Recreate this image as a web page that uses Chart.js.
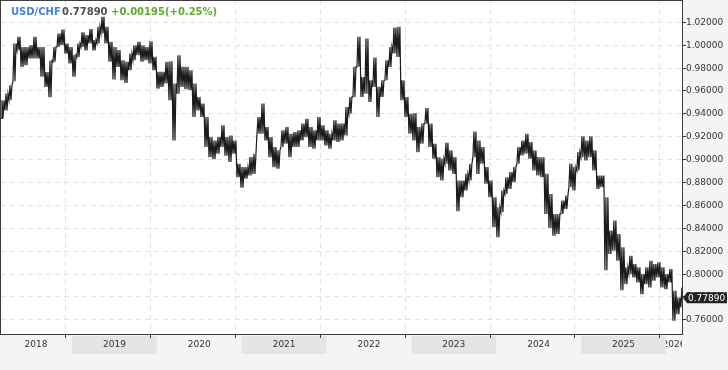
<!DOCTYPE html>
<html>
<head>
<title>USD/CHF</title>
<script src="https://cdn.jsdelivr.net/npm/chart.js"></script>
<style>
  html, body { margin: 0; padding: 0; background: #f3f4f6; }
  #wrap { width: 728px; height: 370px; }
</style>
</head>
<body>
<div id="wrap"><canvas id="fx" width="728" height="370"></canvas></div>
<script>
const years = ['2018', '2019', '2020', '2021', '2022', '2023', '2024', '2025', '2026'];
const yTicks = [0.76, 0.78, 0.80, 0.82, 0.84, 0.86, 0.88, 0.90, 0.92, 0.94, 0.96, 0.98, 1.00, 1.02];
const firstSample = 2018.163; // decimal year of the first sample
const sampleStep = 0.04714;   // ~2.5 weeks between samples

// high / low of each sample window
const highs = [
  0.9514, 0.9572, 0.9645, 1.0010, 1.0068, 0.9980, 0.9980, 0.9995, 1.0068, 0.9980,
  0.9980, 0.9760, 0.9860, 0.9980, 1.0098, 1.0133, 1.0010, 0.9980, 0.9910, 1.0010,
  1.0107, 1.0083, 1.0136, 1.0040, 1.0156, 1.0244, 1.0156, 1.0025, 0.9980, 0.9952,
  0.9864, 0.9850, 0.9923, 0.9995, 1.0025, 0.9995, 0.9980, 1.0030, 0.9893, 0.9762,
  0.9762, 0.9850, 0.9855, 0.9660, 0.9908, 0.9806, 0.9806, 0.9777, 0.9660, 0.9543,
  0.9485, 0.9368, 0.9192, 0.9163, 0.9192, 0.9295, 0.9192, 0.9207, 0.9163, 0.8959,
  0.8930, 0.8930, 0.9017, 0.9047, 0.9368, 0.9485, 0.9280, 0.9192, 0.9105, 0.9076,
  0.9251, 0.9280, 0.9222, 0.9236, 0.9251, 0.9310, 0.9353, 0.9280, 0.9251, 0.9368,
  0.9295, 0.9251, 0.9222, 0.9339, 0.9310, 0.9310, 0.9455, 0.9543, 0.9806, 1.0068,
  0.9718, 1.0054, 0.9689, 0.9888, 0.9631, 0.9689, 0.9864, 0.9980, 1.0150, 1.0156,
  0.9689, 0.9543, 0.9397, 0.9403, 0.9280, 0.9310, 0.9447, 0.9310, 0.9134, 0.9017,
  0.9003, 0.9143, 0.9076, 0.9017, 0.8813, 0.8813, 0.8871, 0.8959, 0.9242, 0.9163,
  0.9105, 0.8930, 0.8813, 0.8667, 0.8579, 0.8725, 0.8842, 0.8886, 0.8930, 0.9105,
  0.9163, 0.9222, 0.9149, 0.9076, 0.9017, 0.9017, 0.8871, 0.8696, 0.8521, 0.8521,
  0.8638, 0.8681, 0.8959, 0.8930, 0.9061, 0.9200, 0.9163, 0.9200, 0.9076, 0.8857,
  0.8857, 0.8667, 0.8375, 0.8463, 0.8346, 0.8229, 0.8054, 0.8156, 0.8083, 0.8054,
  0.7995, 0.8054, 0.8112, 0.8083, 0.8098, 0.8054, 0.7995, 0.8040, 0.7850, 0.7791,
  0.7879
];
const lows = [
  0.9356, 0.9426, 0.9514, 0.9680, 0.9952, 0.9806, 0.9820, 0.9880, 0.9880, 0.9880,
  0.9720, 0.9630, 0.9540, 0.9850, 0.9980, 0.9995, 0.9920, 0.9835, 0.9720, 0.9893,
  0.9980, 0.9950, 1.0010, 0.9950, 1.0010, 1.0098, 1.0010, 0.9850, 0.9695, 0.9806,
  0.9689, 0.9666, 0.9777, 0.9864, 0.9908, 0.9850, 0.9864, 0.9835, 0.9777, 0.9616,
  0.9630, 0.9660, 0.9514, 0.9163, 0.9572, 0.9630, 0.9610, 0.9601, 0.9368, 0.9426,
  0.9368, 0.9105, 0.9017, 0.9000, 0.9047, 0.9105, 0.9030, 0.8974, 0.9047, 0.8842,
  0.8749, 0.8828, 0.8857, 0.8871, 0.9222, 0.9222, 0.9163, 0.9017, 0.8930, 0.8915,
  0.9105, 0.9134, 0.9017, 0.9105, 0.9105, 0.9163, 0.9192, 0.9105, 0.9090, 0.9163,
  0.9163, 0.9120, 0.9090, 0.9163, 0.9149, 0.9163, 0.9207, 0.9397, 0.9543, 0.9806,
  0.9543, 0.9572, 0.9500, 0.9631, 0.9368, 0.9543, 0.9689, 0.9806, 0.9923, 0.9893,
  0.9514, 0.9368, 0.9222, 0.9163, 0.9061, 0.9134, 0.9310, 0.9105, 0.9003, 0.8842,
  0.8813, 0.8959, 0.8900, 0.8871, 0.8544, 0.8667, 0.8725, 0.8813, 0.9017, 0.8871,
  0.8959, 0.8784, 0.8667, 0.8404, 0.8317, 0.8536, 0.8696, 0.8740, 0.8798, 0.8959,
  0.9032, 0.9047, 0.9003, 0.8900, 0.8857, 0.8842, 0.8521, 0.8398, 0.8331, 0.8346,
  0.8521, 0.8565, 0.8755, 0.8725, 0.8900, 0.9017, 0.8988, 0.9017, 0.8900, 0.8740,
  0.8755, 0.8030, 0.8171, 0.8200, 0.8112, 0.7855, 0.7908, 0.7995, 0.7966, 0.7922,
  0.7820, 0.7908, 0.7879, 0.7937, 0.7966, 0.7879, 0.7864, 0.7922, 0.7587, 0.7645,
  0.7704
];

const symbol = 'USD/CHF';
const lastPrice = 0.77890;
const changeText = '+0.00195(+0.25%)';

// zigzag low/high twice inside each sample window so it reads as dense daily bars
const points = [];
lows.forEach((lo, i) => {
  const t = firstSample + i * sampleStep;
  points.push({ x: t, y: lo });
  points.push({ x: t + sampleStep * 0.25, y: highs[i] });
  points.push({ x: t + sampleStep * 0.5, y: lo });
  points.push({ x: t + sampleStep * 0.75, y: highs[i] });
});

const FONT = '"DejaVu Sans", Verdana, sans-serif';
const tickShift = 0.078; // year ticks sit a little before Jan 1

const decor = {
  id: 'decor',
  beforeDraw(chart) {
    const { ctx, chartArea: a, scales: { x, y } } = chart;
    ctx.save();
    ctx.fillStyle = '#f3f4f6';
    ctx.fillRect(0, 0, chart.width, chart.height);
    ctx.fillStyle = '#ffffff';
    ctx.fillRect(a.left, a.top, a.right - a.left, a.bottom - a.top);

    // year bands + labels
    ctx.font = '9px ' + FONT;
    ctx.textAlign = 'center';
    ctx.textBaseline = 'middle';
    years.forEach((yr, i) => {
      const x0 = Math.max(a.left - 1, x.getPixelForValue(+yr));
      const x1 = Math.min(a.right, x.getPixelForValue(+yr + 1));
      if (x1 <= x0) return;
      if (i % 2 === 1) {
        ctx.fillStyle = '#e4e5e7';
        ctx.fillRect(x0, a.bottom + 2, x1 - x0, 18);
      }
      ctx.save();
      ctx.beginPath();
      ctx.rect(x0, a.bottom + 1, x1 - x0, 22);
      ctx.clip();
      ctx.fillStyle = '#333';
      ctx.fillText(yr, (x0 + x1) / 2, a.bottom + 11);
      ctx.restore();
    });

    // dashed grid
    ctx.strokeStyle = '#e2e2e2';
    ctx.lineWidth = 1;
    ctx.setLineDash([5, 4]);
    yTicks.forEach(v => {
      const py = Math.round(y.getPixelForValue(v)) + 0.5;
      ctx.beginPath();
      ctx.moveTo(a.left, py);
      ctx.lineTo(a.right, py);
      ctx.stroke();
    });
    years.slice(1).forEach(yr => {
      const px = Math.round(x.getPixelForValue(+yr - tickShift)) + 0.5;
      ctx.beginPath();
      ctx.moveTo(px, a.top);
      ctx.lineTo(px, a.bottom);
      ctx.stroke();
    });
    ctx.restore();
  },
  afterDraw(chart) {
    const { ctx, chartArea: a, scales: { x, y } } = chart;
    ctx.save();
    ctx.strokeStyle = '#3c3c3c';
    ctx.lineWidth = 1;
    ctx.setLineDash([]);
    ctx.strokeRect(a.left - 0.5, a.top + 0.5, a.right - a.left + 1, a.bottom - a.top);

    // x ticks
    years.slice(1).forEach(yr => {
      const px = Math.round(x.getPixelForValue(+yr - tickShift)) + 0.5;
      ctx.beginPath();
      ctx.moveTo(px, a.bottom);
      ctx.lineTo(px, a.bottom + 4);
      ctx.stroke();
    });

    // y ticks + labels
    ctx.font = '9px ' + FONT;
    ctx.textAlign = 'left';
    ctx.textBaseline = 'middle';
    ctx.fillStyle = '#333';
    yTicks.forEach(v => {
      const py = Math.round(y.getPixelForValue(v)) + 0.5;
      ctx.beginPath();
      ctx.moveTo(a.right, py);
      ctx.lineTo(a.right + 4, py);
      ctx.stroke();
      ctx.fillText(v.toFixed(5), a.right + 4, py);
    });

    // last price tag
    const ly = y.getPixelForValue(lastPrice);
    ctx.fillStyle = '#222';
    ctx.beginPath();
    ctx.moveTo(a.right + 1, ly);
    ctx.lineTo(a.right + 5, ly - 5.5);
    ctx.lineTo(a.right + 45, ly - 5.5);
    ctx.lineTo(a.right + 45, ly + 5.5);
    ctx.lineTo(a.right + 5, ly + 5.5);
    ctx.closePath();
    ctx.fill();
    ctx.fillStyle = '#fff';
    ctx.fillText(lastPrice.toFixed(5), a.right + 6, ly + 0.5);

    // header
    ctx.font = 'bold 10px ' + FONT;
    ctx.textBaseline = 'alphabetic';
    ctx.fillStyle = '#4a7ee8';
    ctx.fillText(symbol, 11, 15);
    ctx.fillStyle = '#505050';
    ctx.fillText(lastPrice.toFixed(5), 62, 15);
    ctx.fillStyle = '#5fab2e';
    ctx.fillText(changeText, 111, 15);
    ctx.restore();
  }
};

new Chart(document.getElementById('fx'), {
  type: 'line',
  data: {
    datasets: [{
      label: symbol,
      data: points,
      borderColor: '#1c1c1c',
      borderWidth: 1.2,
      pointRadius: 0,
      tension: 0
    }]
  },
  options: {
    responsive: false,
    animation: false,
    devicePixelRatio: 1,
    layout: { padding: { left: 1, right: 46, top: 0, bottom: 36 } },
    plugins: { legend: { display: false }, tooltip: { enabled: false } },
    scales: {
      x: { type: 'linear', display: false, min: 2018.163, max: 2026.19 },
      y: { type: 'linear', display: false, min: 0.7472, max: 1.039 }
    }
  },
  plugins: [decor]
});
</script>
</body>
</html>
